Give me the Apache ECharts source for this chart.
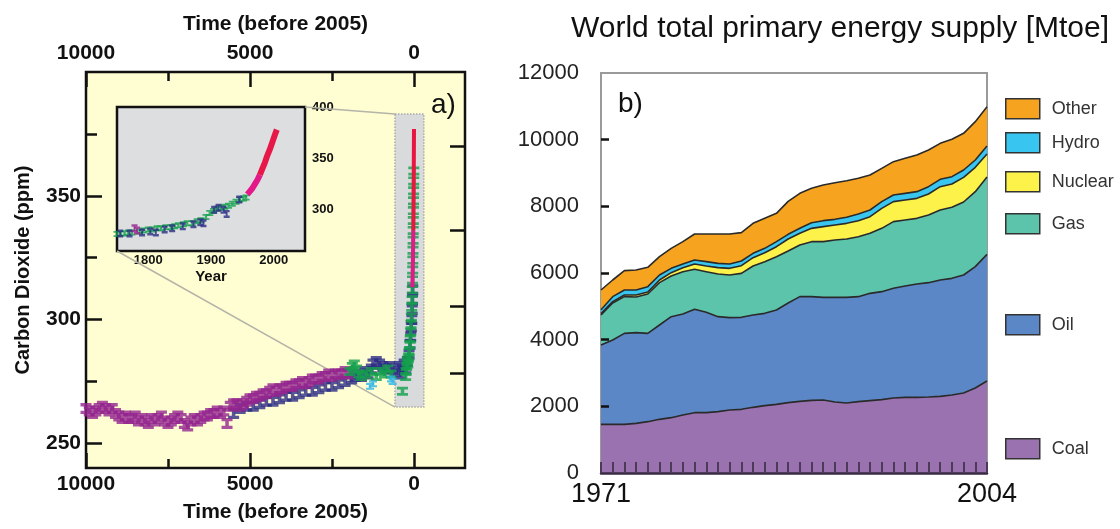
<!DOCTYPE html>
<html><head><meta charset="utf-8">
<script src="https://cdn.jsdelivr.net/npm/echarts@6/dist/echarts.min.js"></script>
<style>html,body{margin:0;padding:0;background:#fff}#c{width:1120px;height:529px}</style>
</head><body><div id="c"></div>
<script>
// ---------- Panel a: atmospheric CO2, [years before 2005, ppm] ----------
const co2Magenta = [[10000,264],[9900,263],[9800,262],[9700,263],[9600,264],[9500,265],[9400,264],[9300,263],[9200,264],[9100,262],[9000,261],[8900,260],[8800,261],[8700,260],[8600,260],[8500,261],[8400,259],[8300,260],[8200,259],[8100,258],[8000,260],[7900,259],[7800,260],[7700,261],[7600,259],[7500,258],[7400,259],[7300,260],[7200,261],[7100,260],[7000,258],[6900,257],[6800,259],[6700,260],[6600,259],[6500,260],[6400,261],[6300,261],[6200,262],[6100,262],[6000,263],[5900,262],[5800,263],[5700,258],[5600,265],[5500,266],[5400,266],[5300,265],[5200,266],[5100,267],[5000,268],[4900,268],[4800,269],[4700,269],[4600,270],[4500,270],[4400,271],[4300,272],[4200,271],[4100,272],[4000,272],[3900,273],[3800,273],[3700,273],[3600,274],[3500,274],[3400,275],[3300,274],[3200,275],[3100,276],[3000,276],[2900,276],[2800,277],[2700,277],[2600,278],[2500,277],[2400,278],[2300,278],[2200,278],[2100,279],[2000,278]];
const co2Navy = [[5500,262],[5300,264],[5100,265],[4900,265],[4700,266],[4500,267],[4300,267],[4100,268],[3900,269],[3700,269],[3500,270],[3300,271],[3100,271],[2900,272],[2700,273],[2500,273],[2300,274],[2100,275],[1900,276],[1800,277],[1700,278],[1600,277],[1500,279],[1400,278],[1300,280],[1250,282],[1150,283],[1050,282],[950,281],[850,280],[750,281],[650,280],[550,279],[450,281],[400,278],[350,280],[300,282],[250,280],[200,283],[150,286],[120,290],[100,293],[80,297],[65,300],[55,304],[45,308],[38,312]];
const co2Green = [[1950,279],[1880,281],[1820,282],[1750,280],[1680,278],[1600,277],[1450,278],[1300,279],[1150,277],[1000,279],[900,278],[800,280],[700,278],[350,271],[255,277],[240,279],[225,281],[205,283],[190,282],[175,284],[160,285],[145,287],[130,290],[115,292],[100,295],[90,298],[80,301],[70,305],[60,308],[52,312],[45,316],[40,320],[35,324],[30,328],[27,332],[24,336],[21,340],[18,344],[15,348],[12,352],[9,356],[6,360]];
const co2LightBlue = [[1340,273],[1250,274],[700,276],[650,275]];
const co2RecentPink = [[47,313],[40,318],[33,324],[26,330],[20,336]];
const co2RecentRed = [[20,336],[15,344],[10,353],[6,362],[3,370],[0,377]];
const co2TimeMajor = [0, 5000, 10000];
const co2TimeMinor = [2500, 7500];
const co2PpmMajor = [250, 300, 350];
const co2PpmMinor = [275, 325, 375];
const forcingTicks = [278.3, 305.5, 336.2, 369.8];
const zoomBand = {tFrom: 580, tTo: -300, vFrom: 264.6, vTo: 383};

// ---------- Inset: [year, ppm] ----------
const insetGreen = [[1750,276.5],[1756,277],[1762,277],[1768,278],[1774,278],[1786,279],[1792,280],[1800,281],[1806,281],[1814,282],[1820,282],[1828,283],[1836,283],[1842,284],[1848,285],[1856,286],[1862,287],[1870,287],[1878,289],[1884,290],[1892,293],[1898,297],[1904,299],[1910,301],[1916,302],[1922,303],[1928,304],[1934,306],[1940,308],[1946,310],[1952,311],[1956,312]];
const insetNavy = [[1755,277],[1770,277],[1790,278],[1803,279],[1812,278],[1826,281],[1838,282],[1855,284],[1872,286],[1883,288],[1888,287],[1905,300],[1912,302],[1920,300],[1925,296],[1945,310]];
const insetMagenta = [[1778,282],[1782,280]];
const insetPink = [[1958,315],[1962,318],[1966,321],[1970,325],[1974,329],[1978,334]];
const insetRed = [[1978,334],[1982,340],[1986,346],[1990,353],[1994,359],[1998,366],[2002,373],[2005,378]];
const insetYearTicks = [1800, 1850, 1900, 1950, 2000];
const insetYearLabels = [1800, 1900, 2000];
const insetPpmTicks = [275, 300, 325, 350, 375];
const insetPpmLabels = [300, 350, 400];

// ---------- Panel b: World TPES [Mtoe] ----------
const years = ['1971','1972','1973','1974','1975','1976','1977','1978','1979','1980','1981','1982','1983','1984','1985','1986','1987','1988','1989','1990','1991','1992','1993','1994','1995','1996','1997','1998','1999','2000','2001','2002','2003','2004'];
const coal    = [1460,1460,1460,1490,1540,1610,1660,1740,1810,1810,1840,1890,1910,1970,2020,2060,2110,2150,2180,2190,2130,2100,2140,2170,2200,2250,2270,2270,2280,2300,2340,2400,2550,2760];
const oil     = [2380,2530,2730,2720,2650,2830,3030,3030,3100,3010,2850,2770,2760,2770,2770,2830,2990,3140,3110,3080,3140,3170,3150,3220,3240,3290,3340,3400,3430,3490,3500,3540,3640,3800];
const gas     = [900,1110,1100,1070,1180,1270,1220,1270,1200,1220,1280,1280,1320,1470,1550,1600,1560,1550,1650,1670,1720,1750,1800,1800,1900,2000,1980,1970,2030,2100,2130,2190,2250,2320];
const nuclear = [40,40,50,60,60,80,100,120,160,170,190,200,230,250,270,300,360,350,400,450,450,470,480,500,600,600,600,600,630,700,700,740,730,690];
const hydro   = [120,150,150,150,160,150,130,110,120,130,130,130,140,130,130,150,140,150,170,180,170,180,200,200,200,200,200,200,220,220,220,220,220,240];
const other   = [590,500,580,600,580,550,600,670,780,830,880,900,850,900,900,850,990,1050,1030,1070,1100,1100,1070,1050,1000,1000,1050,1100,1100,1080,1120,1100,1150,1180];
const energyTicks = [2000, 4000, 6000, 8000, 10000];
const yearLabels = ['1971', '2004'];

const fuels = [
  {name:'Coal', data:coal, color:'#9b72b0'},
  {name:'Oil', data:oil, color:'#5b87c6'},
  {name:'Gas', data:gas, color:'#5cc4ab'},
  {name:'Nuclear', data:nuclear, color:'#fdf24a'},
  {name:'Hydro', data:hydro, color:'#38c6f0'},
  {name:'Other', data:other, color:'#f6a420'}
];
const legendTops = {Other:93, Hydro:127, Nuclear:166, Gas:208, Oil:309, Coal:433};

const FONT = "'Liberation Sans', Arial, sans-serif";
const boldTxt = {fontFamily: FONT, fontWeight: 'bold', color: '#111'};
const plain = v => String(v);
const ibeam = 'path://M0,0H10V3H6.6V7H10V10H0V7H3.4V3H0Z';
const tickStyle = {color:'#111', width:2.5};

function valAxis(o) {
  return Object.assign({
    type:'value', axisLine:{show:false, onZero:false}, splitLine:{show:false},
    axisLabel:{show:false}, axisTick:{show:false}
  }, o);
}

const chart = echarts.init(document.getElementById('c'), null, {renderer:'canvas', width:1120, height:529});

const option = {
  animation: false,
  backgroundColor: '#ffffff',
  title: [
    {text:'World total primary energy supply [Mtoe]', left:566, top:9, textStyle:{fontFamily:FONT, fontSize:30, fontWeight:'normal', color:'#111'}},
    {text:'b)', left:613, top:85, textStyle:{fontFamily:FONT, fontSize:28, fontWeight:'normal', color:'#111'}},
    {text:'a)', left:426, top:86, textStyle:{fontFamily:FONT, fontSize:28, fontWeight:'normal', color:'#111'}}
  ],
  legend: fuels.slice().reverse().map(f => ({
    data:[f.name], left:1000, top:legendTops[f.name], orient:'vertical', icon:'rect',
    itemWidth:34, itemHeight:20, selectedMode:false,
    itemStyle:{borderColor:'#333', borderWidth:1.5},
    textStyle:{fontFamily:FONT, fontSize:18, color:'#333', padding:[0,0,0,7]}
  })),
  grid: [
    {left:86, top:72, width:379, height:396, show:true, backgroundColor:'#fffdd2', borderColor:'#111', borderWidth:2.5, z:0},
    {left:117, top:107, width:188, height:144, show:true, backgroundColor:'#dcdee0', borderColor:'#111', borderWidth:2.5, z:1},
    {left:601, top:73, width:386, height:400, show:true, backgroundColor:'#ffffff', borderColor:'#9a9a9a', borderWidth:2, z:0}
  ],
  xAxis: [
    valAxis({gridIndex:0, inverse:true, min:-1555, max:10000, position:'bottom',
      axisTick:{show:true, inside:true, length:15, customValues:co2TimeMajor, lineStyle:tickStyle},
      axisLabel:Object.assign({show:true, customValues:co2TimeMajor, formatter:plain, margin:6, fontSize:21}, boldTxt),
      name:'Time (before 2005)', nameLocation:'middle', nameGap:34, nameTextStyle:Object.assign({fontSize:21}, boldTxt)}),
    valAxis({gridIndex:0, inverse:true, min:-1555, max:10000, position:'bottom',
      axisTick:{show:true, inside:true, length:9, customValues:co2TimeMinor, lineStyle:tickStyle}}),
    valAxis({gridIndex:0, inverse:true, min:-1555, max:10000, position:'top',
      axisTick:{show:true, inside:true, length:15, customValues:co2TimeMajor, lineStyle:tickStyle},
      axisLabel:Object.assign({show:true, customValues:co2TimeMajor, formatter:plain, margin:8, fontSize:21}, boldTxt),
      name:'Time (before 2005)', nameLocation:'middle', nameGap:37, nameTextStyle:Object.assign({fontSize:21}, boldTxt)}),
    valAxis({gridIndex:0, inverse:true, min:-1555, max:10000, position:'top',
      axisTick:{show:true, inside:true, length:9, customValues:co2TimeMinor, lineStyle:tickStyle}}),
    valAxis({gridIndex:1, min:1750, max:2050, position:'bottom',
      axisTick:{show:true, inside:true, length:6, customValues:insetYearTicks, lineStyle:tickStyle},
      axisLabel:Object.assign({show:true, customValues:insetYearLabels, formatter:plain, margin:3, fontSize:13}, boldTxt),
      name:'Year', nameLocation:'middle', nameGap:18, nameTextStyle:Object.assign({fontSize:15}, boldTxt)}),
    valAxis({gridIndex:1, min:1750, max:2050, position:'top',
      axisTick:{show:true, inside:true, length:6, customValues:insetYearTicks, lineStyle:tickStyle}}),
    {gridIndex:2, type:'category', data:years, boundaryGap:false, position:'bottom', z:5,
      axisLine:{show:true, onZero:false, lineStyle:{color:'#3a2a44', width:2.5}},
      axisTick:{show:true, inside:true, length:11, interval:0, lineStyle:{color:'#4b3b58', width:2}},
      axisLabel:{show:true, interval:(i, v) => yearLabels.indexOf(v) >= 0, margin:8, fontSize:27, fontFamily:FONT, color:'#111'},
      splitLine:{show:false}}
  ],
  yAxis: [
    valAxis({gridIndex:0, min:240, max:400, position:'left',
      axisTick:{show:true, inside:true, length:16, customValues:co2PpmMajor, lineStyle:tickStyle},
      axisLabel:Object.assign({show:true, customValues:co2PpmMajor, formatter:plain, margin:5, fontSize:21}, boldTxt),
      name:'Carbon Dioxide (ppm)', nameLocation:'middle', nameRotate:90, nameGap:53, nameTextStyle:Object.assign({fontSize:20}, boldTxt)}),
    valAxis({gridIndex:0, min:240, max:400, position:'left',
      axisTick:{show:true, inside:true, length:11, customValues:co2PpmMinor, lineStyle:tickStyle}}),
    valAxis({gridIndex:0, min:240, max:400, position:'right',
      axisTick:{show:true, inside:true, length:15, customValues:forcingTicks, lineStyle:tickStyle}}),
    valAxis({gridIndex:1, min:260, max:400, position:'left',
      axisTick:{show:true, inside:true, length:6, customValues:insetPpmTicks, lineStyle:tickStyle}}),
    valAxis({gridIndex:1, min:260, max:400, position:'right',
      axisTick:{show:true, inside:true, length:6, customValues:insetPpmTicks, lineStyle:tickStyle},
      axisLabel:Object.assign({show:true, customValues:insetPpmLabels, formatter:plain, margin:7, fontSize:13}, boldTxt)}),
    valAxis({gridIndex:2, min:0, max:12000, interval:2000, position:'left', z:5,
      axisLine:{show:false, onZero:false},
      axisTick:{show:true, inside:true, length:8, customValues:energyTicks, lineStyle:{color:'#111', width:2.5}},
      axisLabel:{show:true, formatter:plain, margin:22, fontSize:22, fontFamily:FONT, color:'#222'}})
  ],
  series: [
    {type:'scatter', xAxisIndex:0, yAxisIndex:0, data:[], z:1, silent:true,
      markArea:{silent:true, itemStyle:{color:'#d9dadc', borderColor:'#a9a9a9', borderWidth:1.5, borderType:'dotted'},
        data:[[{coord:[zoomBand.tFrom, zoomBand.vTo]}, {coord:[zoomBand.tTo, zoomBand.vFrom]}]]}},
    {type:'scatter', xAxisIndex:0, yAxisIndex:0, data:co2Navy, symbol:ibeam, symbolSize:[11,11], itemStyle:{color:'#2c2d84'}, z:3},
    {type:'scatter', xAxisIndex:0, yAxisIndex:0, data:co2Magenta, symbol:ibeam, symbolSize:[11,11], itemStyle:{color:'#93268f'}, z:3},
    {type:'scatter', xAxisIndex:0, yAxisIndex:0, data:co2Green, symbol:ibeam, symbolSize:[11,9], itemStyle:{color:'#14a04c'}, z:3},
    {type:'scatter', xAxisIndex:0, yAxisIndex:0, data:co2LightBlue, symbol:ibeam, symbolSize:[8,7], itemStyle:{color:'#2ab5e8'}, z:3},
    {type:'line', xAxisIndex:0, yAxisIndex:0, data:co2RecentPink, showSymbol:false, lineStyle:{color:'#e3198a', width:4}, z:4},
    {type:'line', xAxisIndex:0, yAxisIndex:0, data:co2RecentRed, showSymbol:false, lineStyle:{color:'#e8173f', width:4}, z:4},
    {type:'scatter', xAxisIndex:4, yAxisIndex:3, data:insetGreen, symbol:ibeam, symbolSize:[7,6], itemStyle:{color:'#14a04c'}, z:3},
    {type:'scatter', xAxisIndex:4, yAxisIndex:3, data:insetNavy, symbol:ibeam, symbolSize:[6,8], itemStyle:{color:'#2c2d84'}, z:3},
    {type:'scatter', xAxisIndex:4, yAxisIndex:3, data:insetMagenta, symbol:ibeam, symbolSize:[6,8], itemStyle:{color:'#93268f'}, z:3},
    {type:'line', xAxisIndex:4, yAxisIndex:3, data:insetPink, showSymbol:false, lineStyle:{color:'#e3198a', width:6}, z:4},
    {type:'line', xAxisIndex:4, yAxisIndex:3, data:insetRed, showSymbol:false, lineStyle:{color:'#e8174a', width:6}, z:4}
  ].concat(fuels.map(f => ({
    type:'line', name:f.name, xAxisIndex:6, yAxisIndex:5, stack:'tpes', data:f.data,
    showSymbol:false, symbol:'none', color:f.color, itemStyle:{color:f.color},
    areaStyle:{color:f.color, opacity:1}, lineStyle:{color:'#2a2a2a', width:1.6}, z:2
  })))
};
chart.setOption(option);

// connector lines from the inset to the zoom band (positions from the scales)
const inTR = chart.convertToPixel({xAxisIndex:4, yAxisIndex:3}, [2050, 400]);
const inBL = chart.convertToPixel({xAxisIndex:4, yAxisIndex:3}, [1750, 260]);
const bTL = chart.convertToPixel({xAxisIndex:0, yAxisIndex:0}, [zoomBand.tFrom, zoomBand.vTo]);
const bBL = chart.convertToPixel({xAxisIndex:0, yAxisIndex:0}, [zoomBand.tFrom, zoomBand.vFrom]);
chart.setOption({graphic:[
  {type:'line', z:1, shape:{x1:inTR[0], y1:inTR[1], x2:bTL[0], y2:bTL[1]}, style:{stroke:'#b4b4a8', lineWidth:1.5}},
  {type:'line', z:1, shape:{x1:inBL[0], y1:inBL[1], x2:bBL[0], y2:bBL[1]}, style:{stroke:'#b4b4a8', lineWidth:1.5}}
]});
</script>
</body></html>
